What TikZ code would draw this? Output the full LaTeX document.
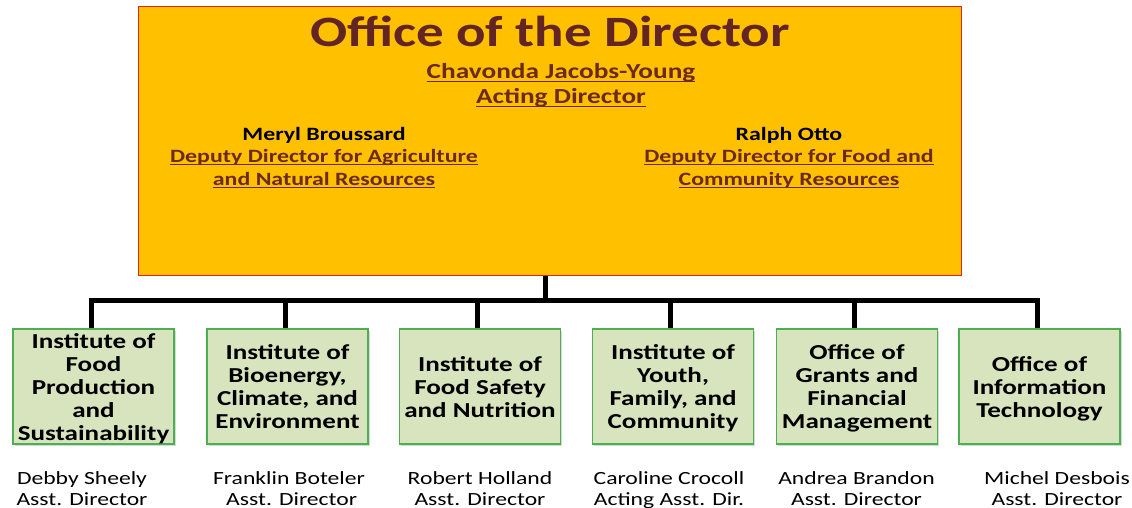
\documentclass[tikz,border=0pt]{standalone}
\usepackage{fontspec}
\setmainfont{Carlito}[FakeStretch=1.27]
\usetikzlibrary{shadows}
\definecolor{gold}{HTML}{FFC000}
\definecolor{titlered}{HTML}{632523}
\definecolor{linkbrown}{HTML}{6B2A1C}
\definecolor{boxgreen}{HTML}{D7E4BD}
\definecolor{boxedge}{HTML}{4CAF50}
\definecolor{topedge}{HTML}{E0262B}
\newcommand\myul[1]{\setbox0\hbox{#1}\rlap{\vrule width\wd0 height -2pt depth 3.3pt}\box0}
\newcommand\ustrut{\vrule height 19pt depth 4pt width 0pt}
\tikzset{
  topbox/.style={draw=topedge, line width=1pt, fill=gold, inner sep=0pt,
    minimum width=823pt, minimum height=268pt},
  unit/.style={draw=boxedge, line width=1.3pt, fill=boxgreen, inner sep=0pt,
    minimum width=161pt, minimum height=115pt, align=center,
    font=\bfseries\fontsize{21.3}{23}\selectfont,
    drop shadow={shadow xshift=1.5pt, shadow yshift=-1.5pt, fill=black!30, opacity=.5}},
  person/.style={align=center, font=\fontsize{18.6}{21}\selectfont},
  titletext/.style={anchor=base, text=titlered, font=\bfseries\fontsize{43.3}{48}\selectfont},
  link/.style={anchor=base, text=linkbrown, font=\bfseries\fontsize{21.5}{24}\selectfont},
  deputy/.style={anchor=base, text=linkbrown, font=\bfseries\fontsize{18.8}{22}\selectfont},
  deputyname/.style={anchor=base, text=black, font=\bfseries\fontsize{18.8}{22}\selectfont},
  conn/.style={line width=5pt}
}
\begin{document}
\begin{tikzpicture}[x=1pt,y=-1pt]
\useasboundingbox (0,0) rectangle (1132,508);
% top box
\node[topbox] (top) at (549.5,141) {};
\node[titletext] (title) at (550,47) {Office of the Director};
\node[link] (dirname) at (561,79) {\myul{Chavonda Jacobs-Young}};
\node[link] (dirrole) at (561,104) {\myul{Acting Director}};
\node[deputyname] (d1name) at (324,140) {Meryl Broussard};
\node[deputy] (d1a) at (324,162) {\myul{Deputy Director for Agriculture}};
\node[deputy] (d1b) at (324,185) {\myul{and Natural Resources}};
\node[deputyname] (d2name) at (789,140) {Ralph Otto};
\node[deputy] (d2a) at (789,162) {\myul{Deputy Director for Food and}};
\node[deputy] (d2b) at (789,185) {\myul{Community Resources}};
% units
\node[unit] (b1) at (93.5,386.5) {\ustrut Institute of\\\ustrut Food\\\ustrut Production\\\ustrut and\\\ustrut Sustainability};
\node[unit] (b2) at (287.5,386.5) {\ustrut Institute of\\\ustrut Bioenergy,\\\ustrut Climate, and\\\ustrut Environment};
\node[unit] (b3) at (480,386.5) {\ustrut Institute of\\\ustrut Food Safety\\\ustrut and Nutrition};
\node[unit] (b4) at (673,386.5) {\ustrut Institute of\\\ustrut Youth,\\\ustrut Family, and\\\ustrut Community};
\node[unit] (b5) at (857,386.5) {\ustrut Office of\\\ustrut Grants and\\\ustrut Financial\\\ustrut Management};
\node[unit] (b6) at (1039.5,386.5) {\ustrut Office of\\\ustrut Information\\\ustrut Technology};
% people
\node[person] (p1) at (82,490.5) {\strut Debby Sheely\\\strut Asst. Director};
\node[person] (p2) at (289,490.5) {\strut Franklin Boteler\\\strut\ Asst. Director};
\node[person] (p3) at (480,490.5) {\strut Robert Holland\\\strut Asst. Director};
\node[person] (p4) at (669,490.5) {\strut Caroline Crocoll\\\strut Acting Asst. Dir.};
\node[person] (p5) at (856.5,490.5) {\strut Andrea Brandon\\\strut Asst. Director};
\node[person] (p6) at (1057,490.5) {\strut Michel Desbois\\\strut Asst. Director};
% connectors
\coordinate (bus) at (545,300);
\draw[conn] ([xshift=-4.5pt]top.south) -- (bus);
\draw[conn] ([xshift=-2.5pt]b1.north) -- ([xshift=-2.5pt]b1.north |- bus)
  -- ([xshift=-2.5pt]b6.north |- bus) -- ([xshift=-2.5pt]b6.north);
\foreach \b in {b2,b3,b4,b5}
  \draw[conn] ([xshift=-2.5pt]\b.north |- bus) -- ([xshift=-2.5pt]\b.north);
\end{tikzpicture}
\end{document}
